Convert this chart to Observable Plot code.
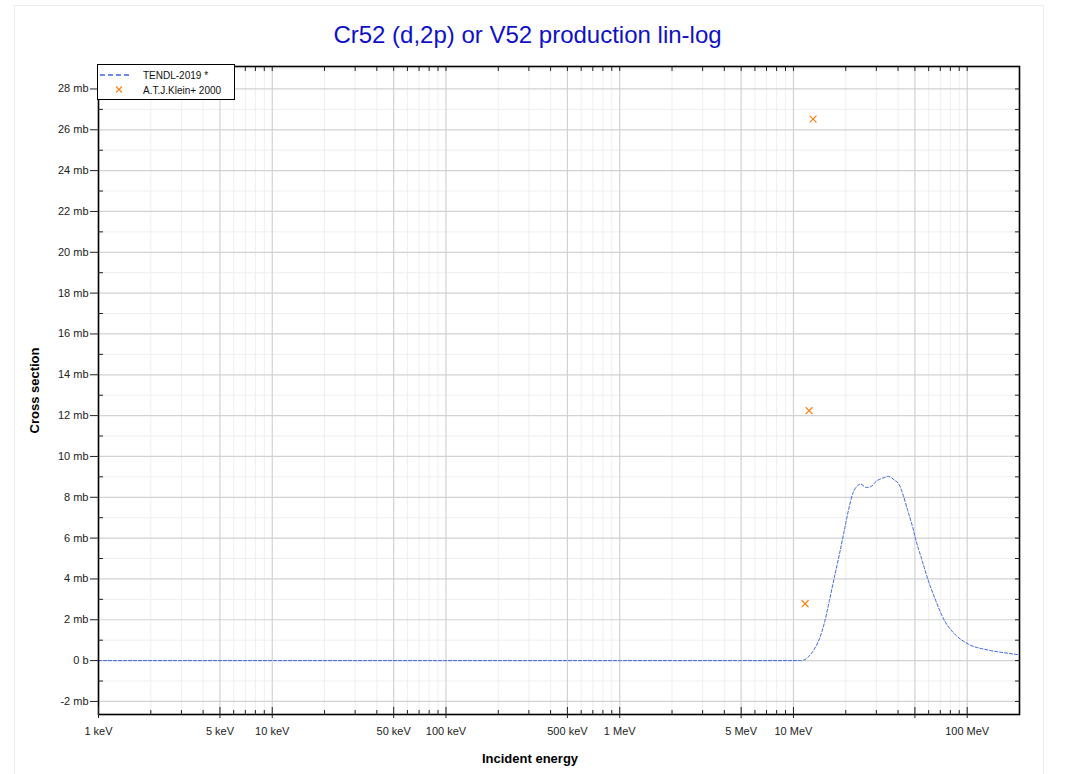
<!DOCTYPE html>
<html><head><meta charset="utf-8">
<script src="https://cdn.jsdelivr.net/npm/d3@7"></script>
<script src="https://cdn.jsdelivr.net/npm/@observablehq/plot@0.6"></script>
<style>
body{margin:0;background:#fff;font-family:"Liberation Sans",Arial,sans-serif;}
#wrap{position:relative;width:1067px;height:774px;overflow:hidden;background:#fff;}
#border{position:absolute;left:14px;top:5px;width:1028px;height:820px;border:1px solid #ececec;pointer-events:none;}
#title{height:27px;padding-top:23px;line-height:24px;font-size:24px;color:#1010c8;text-align:center;width:1027px;margin-left:14px;white-space:nowrap;}
#legend{position:absolute;left:97px;top:64px;width:138px;height:36px;box-sizing:border-box;border:1px solid #000;background:#fff;}
#legend text{font-family:"Liberation Sans",Arial,sans-serif;font-size:10px;fill:#111;}
#chart svg{display:block;}
</style></head>
<body>
<div id="wrap">
<div id="border"></div>
<div id="title">Cr52 (d,2p) or V52 production lin-log</div>
<div id="chart"></div>
<div id="legend"><svg width="136" height="34">
<line x1="2" y1="10" x2="32" y2="10" stroke="#3d64e0" stroke-width="1.5" stroke-dasharray="5,3"/>
<path d="M18,21.5 l6,6 M24,21.5 l-6,6" stroke="#ff7f0e" stroke-width="1.1" fill="none"/>
<text x="45" y="13.5">TENDL-2019 *</text>
<text x="45" y="28.5">A.T.J.Klein+ 2000</text>
</svg></div>
</div>
<script>
// TENDL-2019 evaluated cross section (energy in MeV, cross section in mb)
const tendlEnergy = [0.001,0.01,0.1,1,5,10,11.0,11.5,12.1,13.2,14.1,15.1,16.1,17.2,18.4,19.6,20.7,21.9,23.4,24.3,26.2,28.0,29.9,32.7,35.2,38.1,40.4,42.6,45.5,48.6,50.8,54.3,59.3,64.8,74.0,84.5,100.9,131.5,171.5,200];
const tendlXS     = [0,0,0,0,0,0,0,0.03,0.16,0.57,1.06,1.88,2.94,4.08,5.22,6.36,7.34,8.16,8.57,8.65,8.48,8.53,8.78,8.94,9.02,8.84,8.65,8.16,7.34,6.52,5.87,5.06,4.0,3.10,1.96,1.31,0.82,0.52,0.36,0.28];
// A.T.J.Klein+ 2000 experimental points
const kleinEnergy = [11.67, 12.3, 12.97];
const kleinXS     = [2.79, 12.24, 26.53];

// tick values and labels
const xTickValues = [0.001,0.005,0.01,0.05,0.1,0.5,1,5,10,50,100];
const xTickLabels = ["1 keV","5 keV","10 keV","50 keV","100 keV","500 keV","1 MeV","5 MeV","10 MeV","","100 MeV"];
const xDecades = [0.001,0.01,0.1,1,10,100];
const xMinorMult = [2,3,4,6,7,8,9];
const yTickValues = [-2,0,2,4,6,8,10,12,14,16,18,20,22,24,26,28];
const yTickLabels = ["-2 mb","0 b","2 mb","4 mb","6 mb","8 mb","10 mb","12 mb","14 mb","16 mb","18 mb","20 mb","22 mb","24 mb","26 mb","28 mb"];
const yMinorValues = [-1,1,3,5,7,9,11,13,15,17,19,21,23,25,27,29];

const tendl = tendlEnergy.map((e,i)=>({E:e, xs:tendlXS[i]}));
const klein = kleinEnergy.map((e,i)=>({E:e, xs:kleinXS[i]}));
const xMinor = xDecades.flatMap(d => xMinorMult.map(m => d*m)).filter(v => v < 200);
const xAll = xTickValues.concat(xMinor);
const yAll = yTickValues.concat(yMinorValues);
const xTicks = xTickValues.map((v, i) => ({v, label: xTickLabels[i]}));

const yLabel = d => {
  const i = yTickValues.findIndex(v => Math.abs(v - d) < 1e-6);
  return i < 0 ? "" : yTickLabels[i];
};

const blank = () => "";
const chart = Plot.plot({
  width: 1067,
  height: 724,
  marginLeft: 98,
  marginRight: 48,
  marginTop: 16,
  marginBottom: 60,
  style: {fontFamily: "'Liberation Sans', Arial, sans-serif", fontSize: "11px", color: "#222", background: "transparent"},
  x: {type: "log", domain: [0.001, 200]},
  y: {domain: [-2.64, 29.1]},
  marks: [
    Plot.ruleX(xMinor, {stroke: "#efefef", strokeWidth: 1}),
    Plot.ruleY(yMinorValues, {stroke: "#efefef", strokeWidth: 1}),
    Plot.ruleX(xTickValues, {stroke: "#d2d2d2", strokeWidth: 1.2}),
    Plot.ruleY(yTickValues, {stroke: "#d2d2d2", strokeWidth: 1.2}),
    Plot.line(tendl, {x: "E", y: "xs", stroke: "#3d64e0", strokeWidth: 1, strokeDasharray: "3,2", curve: "monotone-x"}),
    Plot.dot(klein, {x: "E", y: "xs", symbol: "times", r: 3.2, stroke: "#ff7f0e", strokeWidth: 1.2}),
    Plot.frame({stroke: "#000", strokeWidth: 1.6}),
    Plot.axisY({anchor: "left", ticks: yTickValues, tickSize: 8, tickPadding: 2, tickFormat: yLabel, label: null, fontSize: 11}),
    Plot.axisY({anchor: "left", ticks: yMinorValues.filter(v => v < 29), tickSize: 5, dx: 5, tickFormat: blank, label: null}),
    Plot.axisY({anchor: "right", ticks: yAll.filter(v => v < 29), tickSize: 5, dx: -5, tickFormat: blank, label: null}),
    Plot.axisX({anchor: "bottom", ticks: xTickValues, tickSize: 4, tickFormat: blank, label: null}),
    Plot.axisX({anchor: "bottom", ticks: xTickValues, tickSize: 7, dy: -7, tickFormat: blank, label: null}),
    Plot.axisX({anchor: "bottom", ticks: xMinor, tickSize: 4, dy: -4, tickFormat: blank, label: null}),
    Plot.axisX({anchor: "top", ticks: xAll, tickSize: 4, dy: 4, tickFormat: blank, label: null}),
    Plot.text(xTicks, {x: "v", text: "label", frameAnchor: "bottom", dy: 17, textAnchor: "middle", lineAnchor: "middle", fontSize: 11, fill: "#222"}),
    Plot.text(["Cross section"], {frameAnchor: "left", dx: -64, rotate: -90, textAnchor: "middle", lineAnchor: "middle", fontWeight: "bold", fontSize: 13, fill: "#000"}),
    Plot.text(["Incident energy"], {frameAnchor: "bottom", dx: -29, dy: 44, textAnchor: "middle", lineAnchor: "middle", fontWeight: "bold", fontSize: 13, fill: "#000"})
  ]
});
document.getElementById("chart").appendChild(chart);
</script>
</body></html>
